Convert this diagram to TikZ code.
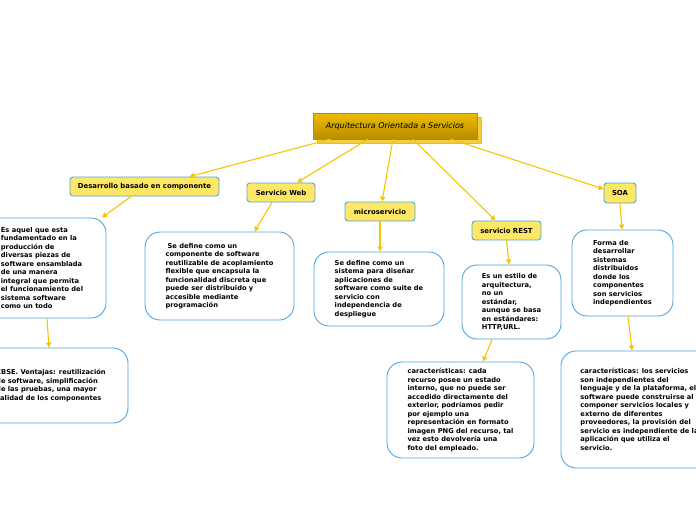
\documentclass[tikz,border=0pt]{standalone}
\usepackage{fontspec}
\setmainfont{DejaVu Sans}
\usetikzlibrary{arrows.meta, shadows, positioning}
\definecolor{titlegold}{HTML}{EDBD00}
\definecolor{darkgold}{HTML}{B88C00}
\definecolor{boxyellow}{HTML}{FFE766}
\definecolor{edgeblue}{HTML}{4DA6E0}
\definecolor{linkyellow}{HTML}{F7C500}

\newcommand{\bodyfont}{\fontsize{6.7}{8.5}\selectfont\bfseries}

\begin{document}
\begin{tikzpicture}[x=1pt, y=-1pt,
  topic/.style={rectangle, rounded corners=3pt, draw=edgeblue, fill=boxyellow, line width=0.9pt, minimum height=19pt, inner sep=2pt, font=\fontsize{6.9}{8}\selectfont\bfseries},
  note/.style={rectangle, rounded corners=15pt, draw=edgeblue, fill=white, line width=0.9pt, align=left, inner sep=0pt, font=\bodyfont},
  link/.style={draw=linkyellow, line width=1.1pt, -{Triangle[length=5pt,width=5pt]}}]
\useasboundingbox (0,0) rectangle (696,520);
\clip (0,0) rectangle (696,520);

% Central topic
\node[rectangle, draw=darkgold, top color=titlegold, bottom color=darkgold, general shadow={shadow xshift=4pt, shadow yshift=-4pt, fill=titlegold!75, draw=darkgold!60}, minimum width=164pt, minimum height=26pt, font=\fontsize{8}{9}\selectfont\itshape] (title) at (395,126) {Arquitectura Orientada a Servicios};

% Main branches
\node[topic, minimum width=149pt] (dev) at (144.5,186.5) {Desarrollo basado en componente};
\node[topic, minimum width=68pt] (web) at (281,192.5) {Servicio Web};
\node[topic, minimum width=70pt] (micro) at (380,211.5) {microservicio};
\node[topic, minimum width=69pt] (rest) at (506.5,230.5) {servicio REST};
\node[topic, minimum width=32pt, minimum height=20pt] (soa) at (620,193) {SOA};

% Descriptions
\node[note, minimum width=128pt, minimum height=100pt] (cdesc) at (42,268) {Es aquel que esta\\fundamentado en la\\producción de\\diversas piezas de\\software ensamblada\\de una manera\\integral que permita\\el funcionamiento del\\sistema software\\como un todo};
\node[note, minimum width=154pt, minimum height=75pt] (cadv) at (51,385.5) {CBSE. Ventajas: reutilización\\de software, simplificación\\de las pruebas, una mayor\\calidad de los componentes};
\node[note, minimum width=149pt, minimum height=88pt] (wdesc) at (219.5,276) {\hspace*{2pt}Se define como un\\componente de software\\reutilizable de acoplamiento\\flexible que encapsula la\\funcionalidad discreta que\\puede ser distribuido y\\accesible mediante\\programación};
\node[note, minimum width=130pt, minimum height=74pt] (mdesc) at (379,289) {Se define como un\\sistema para diseñar\\aplicaciones de\\software como suite de\\servicio con\\independencia de\\despliegue};
\node[note, minimum width=99pt, minimum height=74pt] (rdesc) at (511.5,302) {Es un estilo de\\arquitectura,\\no un\\estándar,\\aunque se basa\\en estándares:\\HTTP,URL.};
\node[note, minimum width=147pt, minimum height=96pt] (rchar) at (460.5,410) {características: cada\\recurso posee un estado\\interno, que no puede ser\\accedido directamente del\\exterior, podríamos pedir\\por ejemplo una\\representación en formato\\imagen PNG del recurso, tal\\vez esto devolvería una\\foto del empleado.};
\node[note, minimum width=101pt, minimum height=86pt] (sdesc) at (622.5,273) {Forma de\\desarrollar\\sistemas\\distribuidos\\donde los\\componentes\\son servicios\\independientes};
\node[note, minimum width=157pt, minimum height=117pt] (schar) at (639.5,409.5) {características: los servicios\\son independientes del\\lenguaje y de la plataforma, el\\software puede construirse al\\componer servicios locales y\\externo de diferentes\\proveedores, la provisión del\\servicio es independiente de la\\aplicación que utiliza el\\servicio.};

% Connections
\draw[link] ([xshift=-65pt]title.south) -- ([xshift=45pt]dev.north);
\draw[link] ([xshift=-27pt]title.south) -- ([xshift=16pt]web.north);
\draw[link] ([xshift=-2pt]title.south) -- ([xshift=2pt]micro.north);
\draw[link] ([xshift=18pt]title.south) -- ([xshift=-11pt]rest.north);
\draw[link] ([xshift=56pt]title.south) -- ([yshift=4pt]soa.west);
\draw[link] ([xshift=-13.5pt]dev.south) -- ([xshift=60pt]cdesc.north);
\draw[link] ([xshift=5pt]cdesc.south) -- ([xshift=-2pt]cadv.north);
\draw[link] ([xshift=-9pt]web.south) -- ([xshift=35pt]wdesc.north);
\draw[link] (micro.south) -- ([xshift=1pt]mdesc.north);
\draw[link] (rest.south) -- ([xshift=-2.5pt]rdesc.north);
\draw[link] ([xshift=-19.5pt]rdesc.south) -- ([xshift=22.5pt]rchar.north);
\draw[link] (soa.south) -- ([xshift=-0.5pt]sdesc.north);
\draw[link] ([xshift=5.5pt]sdesc.south) -- ([xshift=-7.5pt]schar.north);
\end{tikzpicture}
\end{document}
